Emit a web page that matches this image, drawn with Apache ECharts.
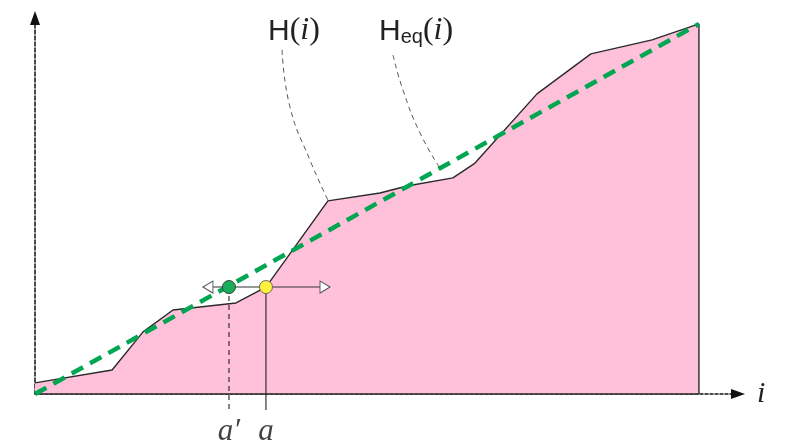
<!DOCTYPE html>
<html>
<head>
<meta charset="utf-8">
<script src="https://cdn.jsdelivr.net/npm/echarts@6/dist/echarts.min.js"></script>
<style>
html, body { margin: 0; padding: 0; background: #fff; }
#chart { width: 808px; height: 445px; }
</style>
</head>
<body>
<div id="chart"></div>
<script>
// cumulative histogram H(i) (i on 0..255, H in % of total)
const histI = [0, 29.6, 41.5, 53.0, 77.2, 88.7, 112.5, 132.5, 142.9, 160.5, 169.0, 192.8, 213.5, 237.0, 255, 255];
const histH = [3.0, 6.5, 16.8, 22.7, 24.6, 28.9, 52.2, 54.3, 56.2, 58.4, 62.4, 81.1, 91.9, 95.7, 100, 0];
// equalized target Heq(i), a straight line
const eqI = [0, 255];
const eqH = [0, 100];
// level H(a) and the two positions a' and a on it
const level = 28.9;
const aPrime = 74.5;
const a = 88.7;
const arrowI = [64.5, 113.3];
const markNames = ["a′", "a"];
const tickEnd = -4.3;
// leader lines from the two labels down to the curves
const leadHI = [94.9, 97.9, 105.6, 112.5];
const leadHV = [93.0, 77.6, 63.2, 52.4];
const leadEqI = [137.5, 141.3, 147.9, 155.5];
const leadEqV = [91.6, 82.2, 70.5, 61.1];

const zip = (xs, ys) => xs.map((x, k) => [x, ys[k]]);

const serif = "Liberation Serif";
const sans = "Liberation Sans";

const chart = echarts.init(document.getElementById("chart"));

const option = {
  animation: false,
  grid: { left: 35, right: 70, top: 18, bottom: 51 },
  xAxis: {
    type: "value",
    min: 0,
    max: 270,
    splitLine: { show: false },
    axisTick: { show: false },
    axisLabel: { show: false },
    axisLine: {
      show: true,
      symbol: ["none", "triangle"],
      symbolSize: [10, 14],
      lineStyle: { color: "#111", width: 1.5, type: [3, 2] },
    },
    name: "i",
    nameLocation: "end",
    nameGap: 19,
    nameTextStyle: { fontFamily: serif, fontStyle: "italic", fontSize: 30, color: "#222" },
  },
  yAxis: {
    type: "value",
    min: 0,
    max: 101.6,
    splitLine: { show: false },
    axisTick: { show: false },
    axisLabel: { show: false },
    axisLine: {
      show: true,
      symbol: ["none", "triangle"],
      symbolSize: [10, 14],
      lineStyle: { color: "#111", width: 1.5, type: [4, 2] },
    },
  },
  graphic: [
    {
      type: "text",
      x: 268,
      y: 47,
      style: {
        text: "{s|H}{p|(}{i|i}{p|)}",
        textVerticalAlign: "bottom",
        rich: {
          s: { fontFamily: sans, fontSize: 30, fill: "#222", verticalAlign: "bottom" },
          p: { fontFamily: serif, fontSize: 32, fill: "#222", verticalAlign: "bottom" },
          i: { fontFamily: serif, fontStyle: "italic", fontSize: 32, fill: "#222", verticalAlign: "bottom" },
        },
      },
    },
    {
      type: "text",
      x: 379,
      y: 47,
      style: {
        text: "{s|H}{e|eq}{p|(}{i|i}{p|)}",
        textVerticalAlign: "bottom",
        rich: {
          s: { fontFamily: sans, fontSize: 30, fill: "#222", verticalAlign: "bottom" },
          e: { fontFamily: sans, fontSize: 20, fill: "#222", verticalAlign: "bottom" },
          p: { fontFamily: serif, fontSize: 32, fill: "#222", verticalAlign: "bottom" },
          i: { fontFamily: serif, fontStyle: "italic", fontSize: 32, fill: "#222", verticalAlign: "bottom" },
        },
      },
    },
  ],
  series: [
    {
      name: "H",
      type: "line",
      data: zip(histI, histH),
      symbol: "none",
      lineStyle: { color: "#2a2a2a", width: 1.4 },
      areaStyle: { color: "#ffc1d9", opacity: 1 },
      z: 2,
    },
    {
      name: "base",
      type: "line",
      data: [[histI[0], 0], [histI[histI.length - 1], 0]],
      symbol: "none",
      lineStyle: { color: "#222", width: 1.6 },
      z: 3,
    },
    {
      name: "Heq",
      type: "line",
      data: zip(eqI, eqH),
      symbol: "none",
      lineStyle: { color: "#00a651", width: 4.5, type: [13, 8] },
      z: 4,
    },
    {
      name: "leadH",
      type: "line",
      smooth: true,
      data: zip(leadHI, leadHV),
      symbol: "none",
      lineStyle: { color: "#444", width: 0.9, type: [5, 4] },
      z: 4,
    },
    {
      name: "leadEq",
      type: "line",
      smooth: true,
      data: zip(leadEqI, leadEqV),
      symbol: "none",
      lineStyle: { color: "#444", width: 0.9, type: [5, 4] },
      z: 4,
    },
    {
      name: "level",
      type: "line",
      data: [[arrowI[0], level], [arrowI[1], level]],
      symbol: "none",
      lineStyle: { color: "#333", width: 1.1 },
      z: 5,
    },
    {
      name: "tickAPrime",
      type: "line",
      clip: false,
      data: [[aPrime, level], [aPrime, tickEnd]],
      symbol: "none",
      lineStyle: { color: "#222", width: 1.1, type: [5, 4] },
      z: 5,
    },
    {
      name: "tickA",
      type: "line",
      clip: false,
      data: [[a, level], [a, tickEnd]],
      symbol: "none",
      lineStyle: { color: "#222", width: 1.1 },
      z: 5,
    },
    {
      name: "arrows",
      type: "scatter",
      symbol: "triangle",
      symbolSize: [12, 10],
      data: [
        { value: [arrowI[0], level], symbolRotate: 90, symbolOffset: [5, 0] },
        { value: [arrowI[1], level], symbolRotate: -90, symbolOffset: [-5, 0] },
      ],
      itemStyle: { color: "#fff", borderColor: "#555", borderWidth: 1, opacity: 1 },
      z: 6,
    },
    {
      name: "dots",
      type: "scatter",
      symbolSize: 13,
      data: [
        { value: [aPrime, level], itemStyle: { color: "#1aad5a", borderColor: "#2d4a36" } },
        { value: [a, level], itemStyle: { color: "#fff23c", borderColor: "#666" } },
      ],
      itemStyle: { borderWidth: 1, opacity: 1 },
      z: 7,
    },
    {
      name: "marks",
      type: "scatter",
      clip: false,
      symbolSize: 1,
      data: [[aPrime, tickEnd], [a, tickEnd]],
      itemStyle: { color: "transparent" },
      label: {
        show: true,
        position: "bottom",
        distance: 6,
        formatter: (p) => markNames[p.dataIndex],
        fontFamily: serif,
        fontStyle: "italic",
        fontSize: 31,
        color: "#111",
      },
      z: 7,
    },
  ],
};

chart.setOption(option);
</script>
</body>
</html>
